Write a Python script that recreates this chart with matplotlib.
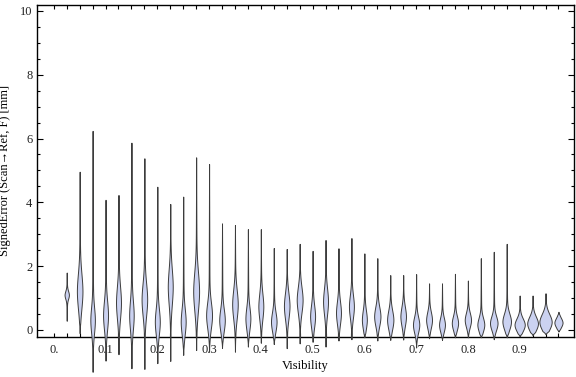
import numpy as np
import matplotlib
matplotlib.use("Agg")
import matplotlib.pyplot as plt

# ---- data (one violin per visibility bin) ----
visibility = [0.025, 0.05, 0.075, 0.1, 0.125, 0.15, 0.175, 0.2, 0.225, 0.25,
              0.275, 0.3, 0.325, 0.35, 0.375, 0.4, 0.425, 0.45, 0.475, 0.5,
              0.525, 0.55, 0.575, 0.6, 0.625, 0.65, 0.675, 0.7, 0.725, 0.75,
              0.775, 0.8, 0.825, 0.85, 0.875, 0.9, 0.925, 0.95, 0.975]
err_min = [0.29, -0.10, -1.31, -0.96, -0.76, -1.20, -1.22, -1.04, -0.97, -0.78,
           -0.63, -0.68, -0.56, -0.68, -0.52, -0.40, -0.44, -0.57, -0.42, -0.37,
           -0.52, -0.33, -0.29, -0.23, -0.33, -0.31, -0.30, -0.55, -0.26, -0.31,
           -0.23, -0.23, -0.23, -0.29, -0.23, -0.20, -0.16, -0.13, -0.05]
err_max = [1.80, 4.96, 6.24, 4.08, 4.23, 5.87, 5.38, 4.49, 3.95, 4.18,
           5.41, 5.20, 3.34, 3.29, 3.16, 3.16, 2.57, 2.54, 2.70, 2.48,
           2.82, 2.56, 2.88, 2.40, 2.25, 1.72, 1.72, 1.75, 1.46, 1.46,
           1.76, 1.55, 2.25, 2.45, 2.70, 1.08, 1.08, 1.15, 0.57]
err_mode = [1.10, 1.20, 0.30, 0.45, 0.85, 0.45, 0.95, 0.25, 1.35, 0.25,
            1.20, 0.45, 0.30, 0.80, 0.35, 0.73, 0.25, 0.75, 0.94, 0.42,
            0.89, 0.53, 0.73, 0.31, 0.42, 0.31, 0.42, 0.16, 0.31, 0.16,
            0.21, 0.31, 0.16, 0.21, 0.26, 0.16, 0.20, 0.25, 0.23]
# half width of the violin at its mode (in visibility units)
mode_halfwidth = [0.0033, 0.0045, 0.0035, 0.0039, 0.0039, 0.0035, 0.0045, 0.0039, 0.0039, 0.0039,
                  0.0048, 0.0048, 0.0045, 0.0045, 0.0039, 0.0039, 0.0045, 0.0045, 0.0048, 0.0039,
                  0.0039, 0.0039, 0.0039, 0.0039, 0.0052, 0.0052, 0.0045, 0.0052, 0.0048, 0.0048,
                  0.0052, 0.0052, 0.0058, 0.0064, 0.0074, 0.0090, 0.0095, 0.0110, 0.0070]
# vertical spread of the bulge (mm)
bulge_spread = [0.12, 0.55, 0.40, 0.45, 0.50, 0.45, 0.50, 0.40, 0.55, 0.40,
                0.60, 0.40, 0.35, 0.45, 0.35, 0.40, 0.30, 0.40, 0.40, 0.35,
                0.40, 0.35, 0.35, 0.30, 0.30, 0.30, 0.30, 0.25, 0.25, 0.22,
                0.22, 0.22, 0.22, 0.22, 0.25, 0.20, 0.22, 0.25, 0.15]

xtick_labels = ["0.", "0.1", "0.2", "0.3", "0.4", "0.5", "0.6", "0.7", "0.8", "0.9"]
xtick_values = [0.0, 0.1, 0.2, 0.3, 0.4, 0.5, 0.6, 0.7, 0.8, 0.9]

plt.rcParams['font.family'] = ['Liberation Serif', 'DejaVu Serif']
plt.rcParams['font.size'] = 9

fig = plt.figure(figsize=(5.76, 3.77), dpi=100)
ax = fig.add_axes([36.5 / 576, 40 / 377, (574 - 36.5) / 576, (337 - 4.5) / 377])

FILL = '#cbd2f1'
EDGE = '#3c3c3c'
tail_hw = 0.0009

for x, lo, hi, md, hw, sd in zip(visibility, err_min, err_max, err_mode,
                                 mode_halfwidth, bulge_spread):
    y = np.linspace(lo, hi, 400)
    taper = np.where(y >= md, (hi - y) / max(hi - md, 1e-6), (y - lo) / max(md - lo, 1e-6))
    taper = np.clip(taper, 0, 1)
    g = np.exp(-0.5 * ((y - md) / sd) ** 2) * np.clip(taper * 4, 0, 1)
    w = hw * g + tail_hw * taper
    ax.fill_betweenx(y, x - w, x + w, facecolor=FILL, edgecolor=EDGE,
                     linewidth=0.7, clip_on=False, zorder=3)

ax.set_xlim(-0.0334, 1.005)
ax.set_ylim(-0.22, 10.2)

all_x = [i * 0.025 for i in range(40)]
ax.set_xticks(all_x)
lbl = []
for v in all_x:
    m = [t for xv, t in zip(xtick_values, xtick_labels) if abs(xv - v) < 1e-9]
    lbl.append(m[0] if m else "")
ax.set_xticklabels(lbl)
ax.set_yticks([0, 2, 4, 6, 8, 10])
ax.set_yticks(np.arange(0, 10.01, 0.5), minor=True)
ax.tick_params(axis='x', which='both', direction='in', length=3, width=0.8,
               top=True, bottom=True, pad=5, colors='black', labelcolor='#222222')
ax.tick_params(axis='y', which='major', direction='in', length=4, width=0.8,
               left=True, right=True, pad=3, labelcolor='#222222')
ax.tick_params(axis='y', which='minor', direction='in', length=2.5, width=0.8,
               left=True, right=True)
for s in ax.spines.values():
    s.set_linewidth(1.0)

ax.set_xlabel("Visibility", labelpad=3)
ax.set_ylabel("SignedError (Scan\u2192Ref, F) [mm]", labelpad=6)

fig.savefig("out.png", dpi=100)
